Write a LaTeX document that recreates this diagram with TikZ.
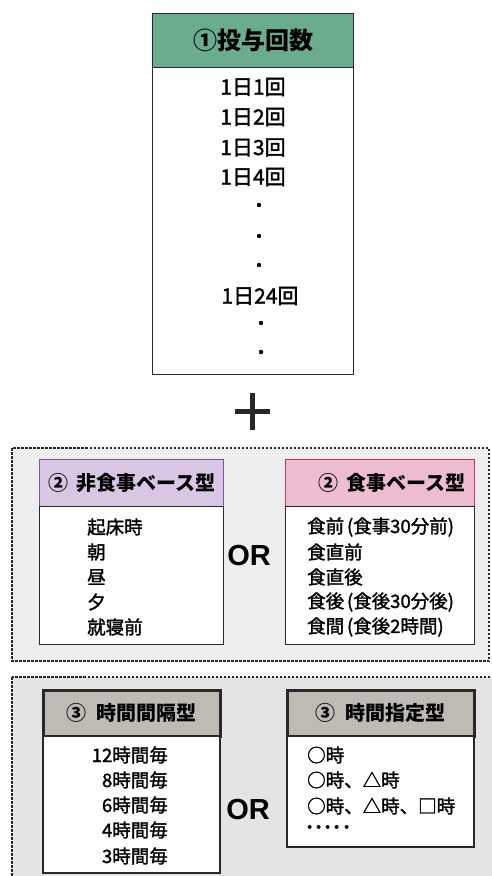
\documentclass[tikz,border=0pt]{standalone}
\usepackage{fontspec}
\newfontfamily\jp{Noto Sans CJK JP}
\newfontfamily\jpm[FakeBold=1.6]{Noto Sans CJK JP}
\newfontfamily\orfont{Liberation Sans}
\definecolor{hdrgreen}{RGB}{108,172,142}
\definecolor{hdrpurple}{RGB}{216,198,228}
\definecolor{brdpurple}{RGB}{125,85,160}
\definecolor{hdrpink}{RGB}{238,188,208}
\definecolor{brdpink}{RGB}{205,45,105}
\definecolor{hdrgray}{RGB}{190,186,180}
\definecolor{bgone}{RGB}{238,238,238}
\definecolor{bgtwo}{RGB}{228,228,228}
\definecolor{inkdark}{RGB}{40,40,40}
\begin{document}
\begin{tikzpicture}[x=1pt,y=-1pt,
  hdr/.style={draw=inkdark, line width=1.3pt, inner sep=0pt, anchor=north west,
    font=\jp\bfseries\fontsize{20}{24}\selectfont},
  bodybox/.style={draw=inkdark, line width=1.3pt, fill=white, inner sep=0pt, anchor=north west},
  item/.style={inner sep=0pt, text=black, font=\jpm\fontsize{18.5}{22}\selectfont},
  topitem/.style={inner sep=0pt, font=\jpm\fontsize{21}{24}\selectfont},
  dotn/.style={circle, fill=black, inner sep=0pt, minimum size=4.4pt},
  orlabel/.style={inner sep=0pt, font=\orfont\bfseries\fontsize{29}{32}\selectfont},
  dashbox/.style={draw=inkdark, line width=1.4pt, dash pattern=on 2.5pt off 1.5pt},
]
\useasboundingbox (0,0) rectangle (492,876);
\fill[white] (0,0) rectangle (492,876);

% ---------- (1) top box ----------
\node[hdr, fill=hdrgreen, minimum width=201pt, minimum height=54pt,
  font=\jp\bfseries\fontsize{24}{28}\selectfont] (h1) at (152,13) {①投与回数};
\node[bodybox, minimum width=201pt, minimum height=307pt] (b1) at (152,67) {};
\node[topitem] (r1) at (253,87) {1日1回};
\node[topitem] (r2) at (253,117) {1日2回};
\node[topitem] (r3) at (253,147.5) {1日3回};
\node[topitem] (r4) at (253,177) {1日4回};
\node[dotn] (d1) at (259,205) {};
\node[dotn] (d2) at (259,236) {};
\node[dotn] (d3) at (259,265) {};
\node[topitem] (r24) at (260,296) {1日24回};
\node[dotn] (d4) at (261,323) {};
\node[dotn] (d5) at (261,352) {};

% ---------- plus ----------
\draw[line width=5pt, inkdark] (235,411) -- (270,411);
\draw[line width=5pt, inkdark] (252.5,393) -- (252.5,430);

% ---------- (2) meal section ----------
\draw[dashbox, fill=bgone] (12,448) rectangle (489,661);
\node[hdr, draw=brdpurple, fill=hdrpurple, minimum width=184pt, minimum height=47pt] (h2a) at (39,459) {②\hspace{0.4em}非食事ベース型};
\node[bodybox, minimum width=184pt, minimum height=138pt] (b2a) at (39,506) {};
\node[item, anchor=west] (a1) at (87,527) {起床時};
\node[item, anchor=west] (a2) at (87,552) {朝};
\node[item, anchor=west] (a3) at (87,577) {昼};
\node[item, anchor=west] (a4) at (87,602) {夕};
\node[item, anchor=west] (a5) at (87,627) {就寝前};

\node[hdr, draw=brdpink, fill=hdrpink, minimum width=189pt, minimum height=47pt] (h2b) at (285,459) {\hspace{1.2em}②\hspace{0.4em}食事ベース型};
\node[bodybox, minimum width=189pt, minimum height=138pt] (b2b) at (285,506) {};
\node[item, anchor=west] (m1) at (307,527) {食前\hspace{0.15em}(食事30分前)};
\node[item, anchor=west] (m2) at (307,552) {食直前};
\node[item, anchor=west] (m3) at (307,577) {食直後};
\node[item, anchor=west] (m4) at (307,602) {食後\hspace{0.15em}(食後30分後)};
\node[item, anchor=west] (m5) at (307,627) {食間\hspace{0.15em}(食後2時間)};

\node[orlabel] (or1) at (249,556) {OR};

% ---------- (3) time section ----------
\begin{scope}
\clip (0,0) rectangle (492,876);
\draw[dashbox, fill=bgtwo] (12,677) rectangle (500,890);
\end{scope}
\node[hdr, line width=2.6pt, fill=hdrgray, minimum width=177pt, minimum height=46pt] (h3a) at (42,689) {③\hspace{0.5em}時間間隔型};
\node[bodybox, line width=2.4pt, minimum width=177pt, minimum height=137pt] (b3a) at (42,735) {};
\node[item, anchor=east] (g1) at (168,755) {12時間毎};
\node[item, anchor=east] (g2) at (168,780) {8時間毎};
\node[item, anchor=east] (g3) at (168,805) {6時間毎};
\node[item, anchor=east] (g4) at (168,830) {4時間毎};
\node[item, anchor=east] (g5) at (168,856) {3時間毎};

\node[hdr, line width=2.6pt, fill=hdrgray, minimum width=187pt, minimum height=46pt] (h3b) at (286,689) {③\hspace{0.5em}時間指定型};
\node[bodybox, line width=2.4pt, minimum width=187pt, minimum height=111pt] (b3b) at (286,735) {};
\node[item, anchor=west] (s1) at (307,755) {○時};
\node[item, anchor=west] (s2) at (307,780) {○時、△時};
\node[item, anchor=west] (s3) at (307,806) {○時、△時、□時};
\node[item, anchor=west, font=\jp\bfseries\fontsize{18.5}{22}\selectfont] (s4) at (305,830) {･････};

\node[orlabel] (or2) at (248,810) {OR};
\end{tikzpicture}
\end{document}
